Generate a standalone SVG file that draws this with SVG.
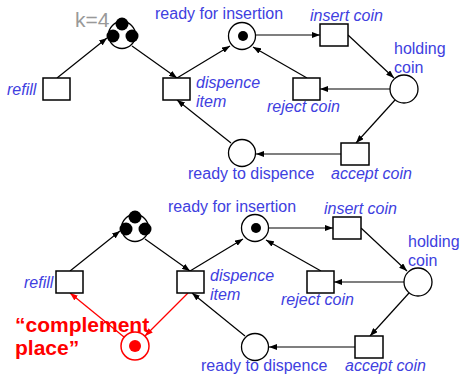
<svg xmlns="http://www.w3.org/2000/svg" width="462" height="376" viewBox="0 0 462 376">
<style>
.pl{fill:#fff;stroke:#000;stroke-width:1.3}
.tr{fill:#fff;stroke:#000;stroke-width:1.5}
.tok{fill:#000}
.lb{font-family:"Liberation Sans",Arial,sans-serif;font-size:16px;fill:#4040e0}
.it{font-style:italic}
.k{font-family:"Liberation Sans",Arial,sans-serif;font-size:21px;fill:#999}
.cp{font-family:"Liberation Sans",Arial,sans-serif;font-size:21px;font-weight:bold;fill:#f00}
.a{stroke:#000;stroke-width:1.2;fill:none;marker-end:url(#ah)}
.r{stroke:#f00;stroke-width:1.3;fill:none;marker-end:url(#ahr)}
</style>
<defs>
<marker id="ah" markerUnits="userSpaceOnUse" markerWidth="8" markerHeight="6" refX="8" refY="3" orient="auto"><path d="M0,0 L8,3 L0,6 z" fill="#000"/></marker>
<marker id="ahr" markerUnits="userSpaceOnUse" markerWidth="8" markerHeight="6" refX="8" refY="3" orient="auto"><path d="M0,0 L8,3 L0,6 z" fill="#f00"/></marker>
</defs>
<g id="connectors">
<line class="a" x1="57" y1="78" x2="107" y2="38"/>
<line class="a" x1="132" y1="46" x2="177" y2="78"/>
<line class="a" x1="177" y1="78" x2="230" y2="46"/>
<line class="a" x1="256" y1="35" x2="320" y2="35"/>
<line class="a" x1="348" y1="35" x2="394" y2="78"/>
<line class="a" x1="390" y1="89" x2="320" y2="89"/>
<line class="a" x1="307" y1="78" x2="253" y2="47"/>
<line class="a" x1="395" y1="100" x2="356" y2="143"/>
<line class="a" x1="341" y1="154" x2="256" y2="154"/>
<line class="a" x1="231" y1="143" x2="177" y2="100"/>
<line class="a" x1="70" y1="271" x2="120" y2="231"/>
<line class="a" x1="145" y1="239" x2="190" y2="271"/>
<line class="a" x1="190" y1="271" x2="243" y2="239"/>
<line class="a" x1="269" y1="228" x2="333" y2="228"/>
<line class="a" x1="361" y1="228" x2="407" y2="271"/>
<line class="a" x1="404" y1="282" x2="334" y2="282"/>
<line class="a" x1="321" y1="271" x2="266" y2="240"/>
<line class="a" x1="409" y1="293" x2="370" y2="336"/>
<line class="a" x1="355" y1="347" x2="269" y2="347"/>
<line class="a" x1="245" y1="336" x2="192" y2="293"/>
<line class="r" x1="124" y1="337" x2="70" y2="293"/>
<line class="r" x1="188" y1="293" x2="145" y2="336"/>
</g>
<g id="k4label"><text class="k" x="75" y="27">k=4</text></g>
<g id="p_capacity">
<circle class="pl" cx="122" cy="35" r="13.5"/>
<circle class="tok" cx="122" cy="24" r="6.5"/>
<circle class="tok" cx="113" cy="36" r="6.5"/>
<circle class="tok" cx="132" cy="36" r="6.5"/>
</g>
<g id="t_refill"><rect class="tr" x="43" y="78" width="27" height="22"/><text class="lb it" x="7" y="95">refill</text></g>
<g id="t_dispence"><rect class="tr" x="163" y="78" width="27" height="22"/><text class="lb it" x="196" y="88">dispence</text><text class="lb it" x="196" y="107">item</text></g>
<g id="p_ready_ins"><circle class="pl" cx="242" cy="36" r="13.5"/><circle class="tok" cx="243" cy="36" r="5"/><text class="lb" x="155" y="19">ready for insertion</text></g>
<g id="t_insert"><rect class="tr" x="320" y="24" width="28" height="22"/><text class="lb it" x="310" y="21">insert coin</text></g>
<g id="p_holding"><circle class="pl" cx="404" cy="89" r="14"/><text class="lb" x="394" y="54">holding</text><text class="lb" x="394" y="73">coin</text></g>
<g id="t_reject"><rect class="tr" x="293" y="78" width="27" height="22"/><text class="lb it" x="267" y="112">reject coin</text></g>
<g id="p_ready_disp"><circle class="pl" cx="242" cy="153" r="13.5"/><text class="lb" x="188" y="179">ready to dispence</text></g>
<g id="t_accept"><rect class="tr" x="341" y="143" width="28" height="22"/><text class="lb it" x="331" y="179">accept coin</text></g>

<g id="p_capacity2">
<circle class="pl" cx="135" cy="228" r="13.5"/>
<circle class="tok" cx="135" cy="217" r="6.5"/>
<circle class="tok" cx="126" cy="229" r="6.5"/>
<circle class="tok" cx="145" cy="229" r="6.5"/>
</g>
<g id="t_refill2"><rect class="tr" x="56" y="271" width="27" height="22"/><text class="lb it" x="24" y="288">refill</text></g>
<g id="t_dispence2"><rect class="tr" x="177" y="271" width="27" height="22"/><text class="lb it" x="210" y="281">dispence</text><text class="lb it" x="210" y="300">item</text></g>
<g id="p_ready_ins2"><circle class="pl" cx="255" cy="228" r="13.5"/><circle class="tok" cx="256" cy="228" r="5"/><text class="lb" x="168" y="212">ready for insertion</text></g>
<g id="t_insert2"><rect class="tr" x="333" y="217" width="28" height="22"/><text class="lb it" x="324" y="214">insert coin</text></g>
<g id="p_holding2"><circle class="pl" cx="418" cy="282" r="14"/><text class="lb" x="408" y="247">holding</text><text class="lb" x="408" y="266">coin</text></g>
<g id="t_reject2"><rect class="tr" x="307" y="271" width="27" height="22"/><text class="lb it" x="281" y="305">reject coin</text></g>
<g id="p_ready_disp2"><circle class="pl" cx="255" cy="347" r="13.5"/><text class="lb" x="201" y="371">ready to dispence</text></g>
<g id="t_accept2"><rect class="tr" x="355" y="336" width="28" height="22"/><text class="lb it" x="345" y="371">accept coin</text></g>
<g id="p_complement">
<circle cx="135" cy="346" r="14" fill="#fff" stroke="#f00" stroke-width="1.5"/>
<circle cx="135" cy="346" r="6" fill="#f00"/>
<text class="cp" x="15" y="332">“complement</text>
<text class="cp" x="15" y="355">place”</text>
</g>
</svg>
